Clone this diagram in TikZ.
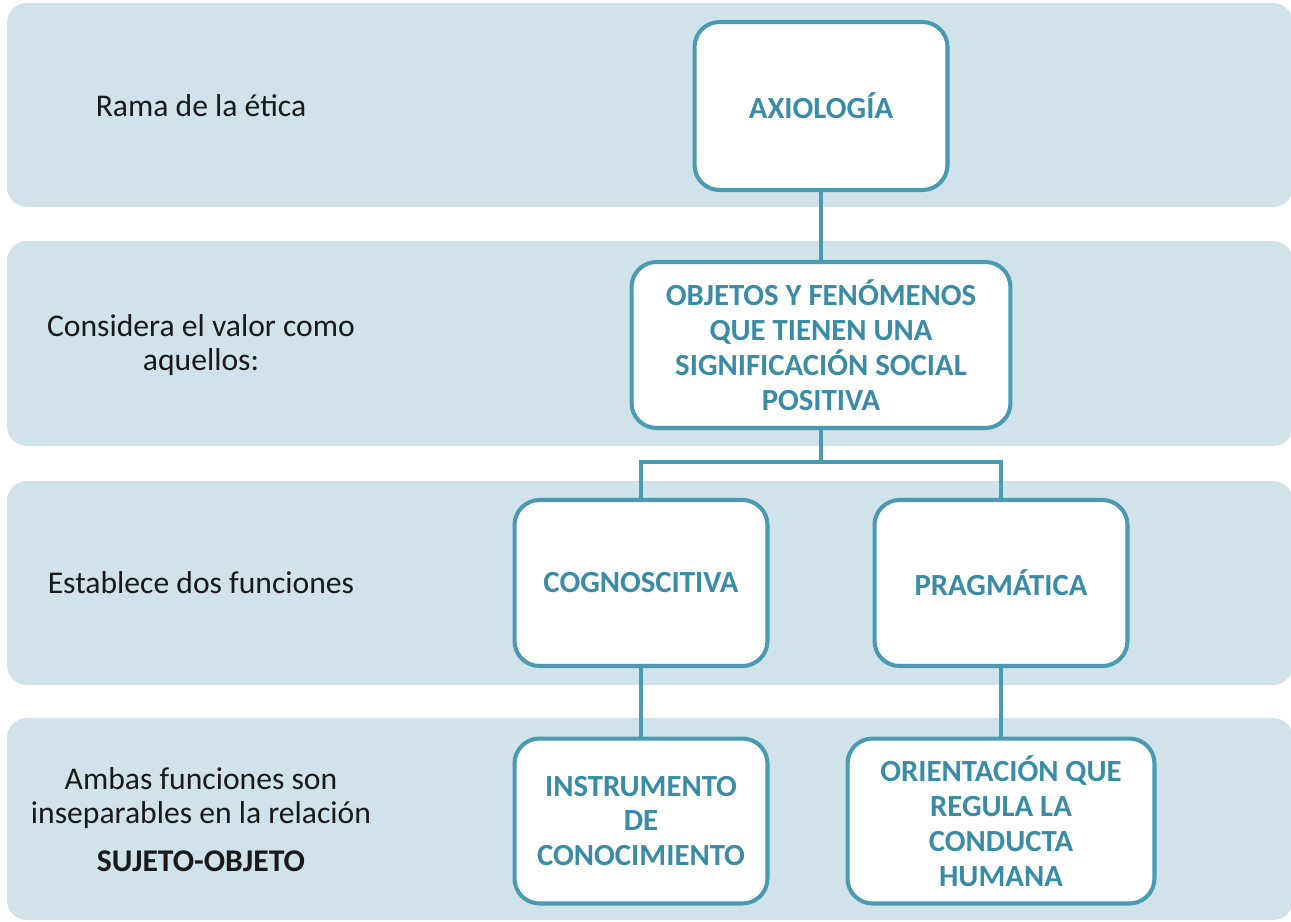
\documentclass[tikz,border=0pt]{standalone}
\usepackage{fontspec}
\setmainfont{Carlito}
\usetikzlibrary{calc}

\definecolor{bandfill}{HTML}{D0E2EA}
\definecolor{boxline}{HTML}{4A9AB2}
\definecolor{boxtext}{HTML}{3A8CA6}

\begin{document}
\begin{tikzpicture}[x=0.02cm,y=-0.02cm,
                    band/.style={fill=bandfill,rounded corners=0.4cm},
                    concept/.style={draw=boxline,line width=2.3pt,fill=white,rounded corners=0.5cm,
                                    minimum width=5.06cm,minimum height=3.32cm,align=center,
                                    text=boxtext,font=\bfseries\fontsize{17.5}{19.9}\selectfont},
                    note/.style={align=center,text=black!90,font=\fontsize{18}{19.4}\selectfont},
                    link/.style={boxline,line width=2.3pt}]
      \useasboundingbox (0,0) rectangle (1291,922);

      % background bands
      \foreach \top/\bot in {3/207,241/446,481/685,718/920} {
        \fill[band] (7,\top) rectangle (1293,\bot);
      }

      % left column
      \node[note] (rama) at (201,106) {Rama de la ética};
      \node[note] (considera) at (201,345) {Considera el valor como\\aquellos:};
      \node[note] (establece) at (201,583) {Establece dos funciones};
      \node[note] (ambas) at (201,820) {Ambas funciones son\\inseparables en la relación\\[8pt]\textbf{SUJETO-OBJETO}};

      % concept boxes
      \node[concept,minimum height=3.36cm] (axiologia) at (821,106) {AXIOLOGÍA};
      \node[concept,minimum width=7.58cm] (objetos) at (821,345) {OBJETOS Y FENÓMENOS\\QUE TIENEN UNA\\SIGNIFICACIÓN SOCIAL\\POSITIVA};
      \node[concept] (cognos) at (641,583) {COGNOSCITIVA};
      \node[concept] (pragma) at (1001,583) {PRAGMÁTICA};
      \node[concept,minimum height=3.3cm] (instrum) at (641,821) {INSTRUMENTO\\DE\\CONOCIMIENTO};
      \node[concept,minimum width=6.14cm,minimum height=3.3cm] (orient) at (1001,821) {ORIENTACIÓN QUE\\REGULA LA\\CONDUCTA\\HUMANA};

      % connectors
      \draw[link] (axiologia) -- (objetos);
      \draw[link] (objetos.south) -- ++(0,32) -| (cognos.north);
      \draw[link] (objetos.south) -- ++(0,32) -| (pragma.north);
      \draw[link] (cognos) -- (instrum);
      \draw[link] (pragma) -- (orient);
    \end{tikzpicture}
\end{document}
